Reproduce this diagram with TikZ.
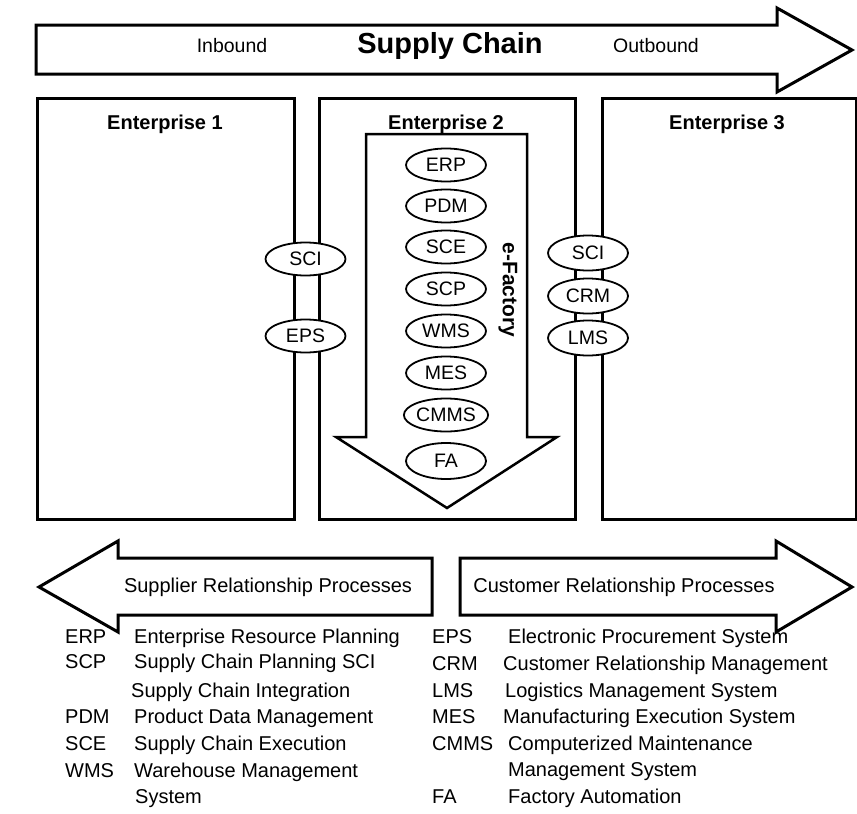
\documentclass[tikz,border=0pt]{standalone}
\usepackage{fontspec}
\setmainfont{Liberation Sans}
\usetikzlibrary{shapes.geometric}
\begin{document}
\begin{tikzpicture}[x=1pt,y=-1pt,
  frame/.style={draw=black, line width=3pt, anchor=north west, inner sep=0pt},
  arrowshape/.style={draw=black, line width=3pt, fill=white, line join=miter},
  tag/.style={ellipse, draw=black, line width=1.8pt, fill=white, minimum width=80pt,
              minimum height=33pt, inner sep=0pt, font=\fontsize{19.5}{19.5}\selectfont},
  title/.style={font=\bfseries\fontsize{20}{20}\selectfont, inner sep=0pt},
  plain/.style={font=\fontsize{19.5}{19.5}\selectfont, inner sep=0pt},
  legend/.style={anchor=base west, font=\fontsize{20}{20}\selectfont, inner sep=0pt}
]
\useasboundingbox (0,0) rectangle (857,814);
\fill[white] (0,0) rectangle (857,814);

% supply chain arrow along the top
\draw[arrowshape] (36,25) -- (777,25) -- (777,8) -- (852,50) -- (777,92)
  -- (777,74) -- (36,74) -- cycle;
\node[plain] (inb) at (232,46) {Inbound};
\node[font=\bfseries\fontsize{29}{29}\selectfont, inner sep=0pt] (sc) at (450,46) {Supply Chain};
\node[plain] (outb) at (656,46) {Outbound};

% the three enterprises
\node[frame, minimum width=257pt, minimum height=421pt] (e1) at (36,97) {};
\node[frame, minimum width=256pt, minimum height=421pt] (e2) at (318,97) {};
\node[frame, minimum width=254pt, minimum height=421pt] (e3) at (601,97) {};
\node[title] (t1) at (165,124) {Enterprise 1};
\node[title] (t2) at (446,124) {Enterprise 2};
\node[title] (t3) at (727,124) {Enterprise 3};

% e-Factory flow inside enterprise 2
\draw[arrowshape, line width=2.5pt] (366,134) -- (527,134) -- (527,437) -- (557,437)
  -- (447,508) -- (336,437) -- (366,437) -- cycle;
\node[title, font=\bfseries\fontsize{21}{21}\selectfont, rotate=-90] (efac) at (508,290) {e-Factory};

\node[tag] (erp)  at (446,165) {ERP};
\node[tag] (pdm)  at (446,206) {PDM};
\node[tag] (sce)  at (446,247) {SCE};
\node[tag] (scp)  at (446,289) {SCP};
\node[tag] (wms)  at (446,331) {WMS};
\node[tag] (mes)  at (446,373) {MES};
\node[tag] (cmms) at (446,415) {CMMS};
\node[tag, minimum height=36pt] (fa) at (446,461) {FA};

% interfaces between enterprises
\node[tag] (sciA) at (305.5,259) {SCI};
\node[tag] (eps)  at (305.5,336) {EPS};
\node[tag, minimum height=35pt] (sciB) at (588,253) {SCI};
\node[tag, minimum height=35pt] (crm)  at (588,296) {CRM};
\node[tag, minimum height=35pt] (lms)  at (588,338) {LMS};

% relationship processes
\draw[arrowshape] (432,558) -- (118,558) -- (118,541) -- (39,587) -- (118,632)
  -- (118,615) -- (432,615) -- cycle;
\draw[arrowshape] (460,558) -- (776,558) -- (776,541) -- (852,587) -- (776,632)
  -- (776,615) -- (460,615) -- cycle;
\node[plain, font=\fontsize{20}{20}\selectfont] (srp) at (268,587) {Supplier Relationship Processes};
\node[plain, font=\fontsize{20}{20}\selectfont] (crp) at (624,587) {Customer Relationship Processes};

% glossary, left column
\node[legend] (a1) at (65,643) {ERP};
\node[legend] (d1) at (134,643) {Enterprise Resource Planning};
\node[legend] (a2) at (65,668) {SCP};
\node[legend] (d2) at (134,668) {Supply Chain Planning SCI};
\node[legend] (d2b) at (131,697) {Supply Chain Integration};
\node[legend] (a3) at (65,723) {PDM};
\node[legend] (d3) at (134,723) {Product Data Management};
\node[legend] (a4) at (65,750) {SCE};
\node[legend] (d4) at (134,750) {Supply Chain Execution};
\node[legend] (a5) at (65,777) {WMS};
\node[legend] (d5) at (134,777) {Warehouse Management};
\node[legend] (d5b) at (135,803) {System};

% glossary, right column
\node[legend] (b1) at (432,643) {EPS};
\node[legend] (f1) at (508,643) {Electronic Procurement System};
\node[legend] (b2) at (432,670) {CRM};
\node[legend] (f2) at (503,670) {Customer Relationship Management};
\node[legend] (b3) at (432,697) {LMS};
\node[legend] (f3) at (505,697) {Logistics Management System};
\node[legend] (b4) at (432,723) {MES};
\node[legend] (f4) at (503,723) {Manufacturing Execution System};
\node[legend] (b5) at (432,750) {CMMS};
\node[legend] (f5) at (508,750) {Computerized Maintenance};
\node[legend] (f5b) at (508,776) {Management System};
\node[legend] (b6) at (432,803) {FA};
\node[legend] (f6) at (508,803) {Factory Automation};
\end{tikzpicture}
\end{document}
